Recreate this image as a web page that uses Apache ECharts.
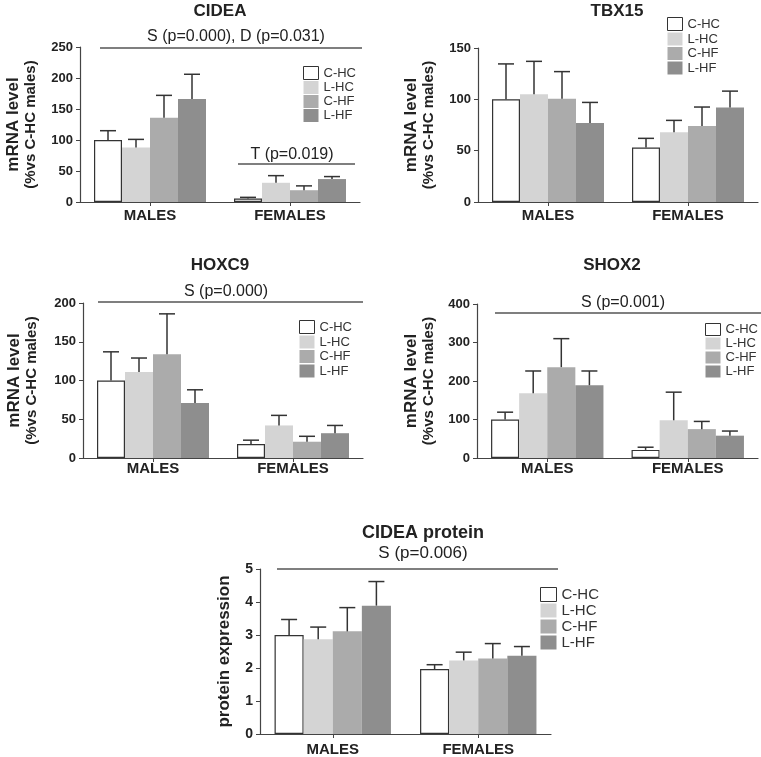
<!DOCTYPE html>
<html>
<head>
<meta charset="utf-8">
<script src="https://cdn.jsdelivr.net/npm/echarts@6/dist/echarts.min.js"></script>
<style>
  html, body { margin: 0; padding: 0; background: #fff; }
  #chart { width: 761px; height: 757px; }
</style>
</head>
<body>
<div id="chart"></div>
<script>
// ---------- DATA ----------
const categories = ['MALES', 'FEMALES'];
const groups = ['C-HC', 'L-HC', 'C-HF', 'L-HF'];

// each row: one diet group, values [MALES, FEMALES]
const cideaMean = [[100, 5.5], [88, 31], [136, 19], [166, 37]];
const cideaErr  = [[15, 2], [13, 11.5], [36, 7], [40, 4]];

const tbx15Mean = [[100, 53], [105, 68], [100.5, 74], [77, 92]];
const tbx15Err  = [[34.5, 9], [32, 11.5], [26.5, 18.5], [20, 16]];

const hoxc9Mean = [[100, 18], [111, 42], [134, 21], [71, 32]];
const hoxc9Err  = [[37, 5], [18, 13], [52, 7], [17, 10]];

const shox2Mean = [[100, 21], [168, 98], [236, 75], [189, 58]];
const shox2Err  = [[19, 7], [58, 73], [74, 20], [37, 12]];

const proteinMean = [[3.0, 1.97], [2.87, 2.23], [3.11, 2.29], [3.89, 2.37]];
const proteinErr  = [[0.47, 0.13], [0.37, 0.25], [0.72, 0.45], [0.73, 0.28]];

const yTicksMRNA = { cidea: [0, 250, 50], tbx15: [0, 150, 50], hoxc9: [0, 200, 50], shox2: [0, 400, 100] };
const yTicksProtein = [0, 5, 1];

// ---------- STYLE ----------
const FONT = "'Liberation Sans', Arial, sans-serif";
const barColors = ['#ffffff', '#d4d4d4', '#ababab', '#8e8e8e'];
const CAT_GAP = 0.20;
const AXIS_COLOR = '#444';
const TEXT_COLOR = '#222';
const MRNA_NAME = '{a|mRNA level}\n{b|(%vs C-HC males)}';

const panels = [
  { title: 'CIDEA', mean: cideaMean, err: cideaErr, ticks: yTicksMRNA.cidea,
    grid: { left: 80, top: 47, width: 280, height: 155 }, yName: MRNA_NAME, nameGap: 40, xMargin: 6,
    legend: { left: 303, top: 66, iw: 15, ih: 13, gap: 1, fs: 13 } },
  { title: 'TBX15', mean: tbx15Mean, err: tbx15Err, ticks: yTicksMRNA.tbx15,
    grid: { left: 478, top: 48, width: 280, height: 154 }, yName: MRNA_NAME, nameGap: 40, xMargin: 6,
    legend: { left: 667, top: 17, iw: 15, ih: 13, gap: 1.5, fs: 13 } },
  { title: 'HOXC9', mean: hoxc9Mean, err: hoxc9Err, ticks: yTicksMRNA.hoxc9,
    grid: { left: 83, top: 303, width: 280, height: 155 }, yName: MRNA_NAME, nameGap: 42, xMargin: 3,
    legend: { left: 299, top: 320, iw: 15, ih: 13, gap: 1.5, fs: 13 } },
  { title: 'SHOX2', mean: shox2Mean, err: shox2Err, ticks: yTicksMRNA.shox2,
    grid: { left: 477, top: 304, width: 281, height: 154 }, yName: MRNA_NAME, nameGap: 39, xMargin: 3,
    legend: { left: 705, top: 323, iw: 15, ih: 12, gap: 1, fs: 13 } },
  { title: 'CIDEA protein', mean: proteinMean, err: proteinErr, ticks: yTicksProtein,
    grid: { left: 260, top: 569, width: 291, height: 165 }, yName: '{a|protein expression}', nameGap: 27, xMargin: 8,
    legend: { left: 540, top: 587, iw: 16, ih: 14, gap: 1, fs: 15 }, yFont: 14 }
];

const grids = [], xAxes = [], yAxes = [], series = [], legends = [];

panels.forEach((p, pi) => {
  grids.push(Object.assign({ containLabel: false }, p.grid));
  xAxes.push({
    type: 'category', gridIndex: pi, data: categories,
    axisLine: { lineStyle: { color: AXIS_COLOR, width: 1.2 } },
    axisTick: { show: true, alignWithLabel: true, length: 4, lineStyle: { color: AXIS_COLOR } },
    axisLabel: { fontFamily: FONT, fontWeight: 'bold', fontSize: 15, color: TEXT_COLOR, margin: p.xMargin },
    splitLine: { show: false }
  });
  yAxes.push({
    type: 'value', gridIndex: pi, min: p.ticks[0], max: p.ticks[1], interval: p.ticks[2],
    name: p.yName, nameLocation: 'middle', nameGap: p.nameGap, nameRotate: 90,
    nameTextStyle: {
      fontFamily: FONT, fontWeight: 'bold', color: TEXT_COLOR,
      rich: {
        a: { fontFamily: FONT, fontWeight: 'bold', fontSize: 17, lineHeight: 18, color: TEXT_COLOR },
        b: { fontFamily: FONT, fontWeight: 'bold', fontSize: 15, lineHeight: 18, color: TEXT_COLOR }
      }
    },
    axisLine: { show: true, lineStyle: { color: AXIS_COLOR, width: 1.2 } },
    axisTick: { show: true, length: 4, lineStyle: { color: AXIS_COLOR } },
    axisLabel: { fontFamily: FONT, fontWeight: 'bold', fontSize: p.yFont || 13, color: TEXT_COLOR, margin: 7 },
    splitLine: { show: false }
  });
  groups.forEach((g, gi) => {
    series.push({
      name: g, type: 'bar', xAxisIndex: pi, yAxisIndex: pi,
      data: p.mean[gi], barGap: '0%', barCategoryGap: (CAT_GAP * 100) + '%',
      itemStyle: gi === 0
        ? { color: barColors[gi], borderColor: '#333', borderWidth: 1.2 }
        : { color: barColors[gi] },
      emphasis: { disabled: true }, z: 2
    });
  });
  groups.forEach((g, gi) => {
    const means = p.mean[gi], errs = p.err[gi];
    series.push({
      name: 'err ' + g, type: 'custom', xAxisIndex: pi, yAxisIndex: pi, silent: true, z: 3,
      data: means.map((m, ci) => [ci, m, m + errs[ci]]),
      encode: { x: 0, y: [1, 2] },
      renderItem: function (params, api) {
        const ci = api.value(0);
        const base = api.coord([ci, api.value(1)]);
        const top = api.coord([ci, api.value(2)]);
        const band = api.size([1, 0])[0];
        const groupW = band * (1 - CAT_GAP);
        const barW = groupW / groups.length;
        const x = base[0] - groupW / 2 + (gi + 0.5) * barW;
        const cap = 8;
        return { type: 'group', children: [
          { type: 'line', shape: { x1: x, y1: base[1], x2: x, y2: top[1] }, style: { stroke: '#333', lineWidth: 1.5 } },
          { type: 'line', shape: { x1: x - cap, y1: top[1], x2: x + cap, y2: top[1] }, style: { stroke: '#333', lineWidth: 1.5 } }
        ]};
      }
    });
  });
  legends.push({
    orient: 'vertical', left: p.legend.left, top: p.legend.top, padding: 0,
    icon: 'rect',
    itemWidth: p.legend.iw, itemHeight: p.legend.ih, itemGap: p.legend.gap,
    selectedMode: false,
    data: groups.map((g, gi) => gi === 0
      ? { name: g, itemStyle: { color: '#ffffff', borderColor: '#333', borderWidth: 1 } }
      : { name: g, itemStyle: { borderWidth: 0 } }),
    textStyle: { fontFamily: FONT, fontSize: p.legend.fs, lineHeight: p.legend.ih, color: '#333' }
  });
});

// ---------- ANNOTATIONS (titles, significance text & lines) ----------
function txt(str, x, y, size, bold) {
  return { type: 'text', x: x, y: y, silent: true,
    style: { text: str, fill: TEXT_COLOR, font: (bold ? 'bold ' : '') + size + 'px ' + FONT,
             align: 'center', verticalAlign: 'middle', textAlign: 'center', textVerticalAlign: 'middle' } };
}
function hline(x1, x2, y) {
  return { type: 'line', silent: true, shape: { x1: x1, y1: y, x2: x2, y2: y }, style: { stroke: '#555', lineWidth: 1.5 } };
}
const graphics = [
  txt('CIDEA', 220, 11, 17, true),
  txt('S (p=0.000), D (p=0.031)', 236, 37, 16, false), hline(100, 362, 48),
  txt('T (p=0.019)', 292, 155, 16, false), hline(238, 355, 164),
  txt('TBX15', 617, 11, 17, true),
  txt('HOXC9', 220, 265, 17, true),
  txt('S (p=0.000)', 226, 292, 16, false), hline(98, 363, 302),
  txt('SHOX2', 612, 265, 17, true),
  txt('S (p=0.001)', 623, 303, 16, false), hline(495, 761, 313),
  txt('CIDEA protein', 423, 533, 18, true),
  txt('S (p=0.006)', 423, 553, 17, false), hline(277, 558, 569)
];

const chart = echarts.init(document.getElementById('chart'), null, { renderer: 'canvas' });
chart.setOption({
  animation: false,
  backgroundColor: '#ffffff',
  textStyle: { fontFamily: FONT },
  grid: grids, xAxis: xAxes, yAxis: yAxes, legend: legends, series: series,
  graphic: graphics
});
</script>
</body>
</html>
